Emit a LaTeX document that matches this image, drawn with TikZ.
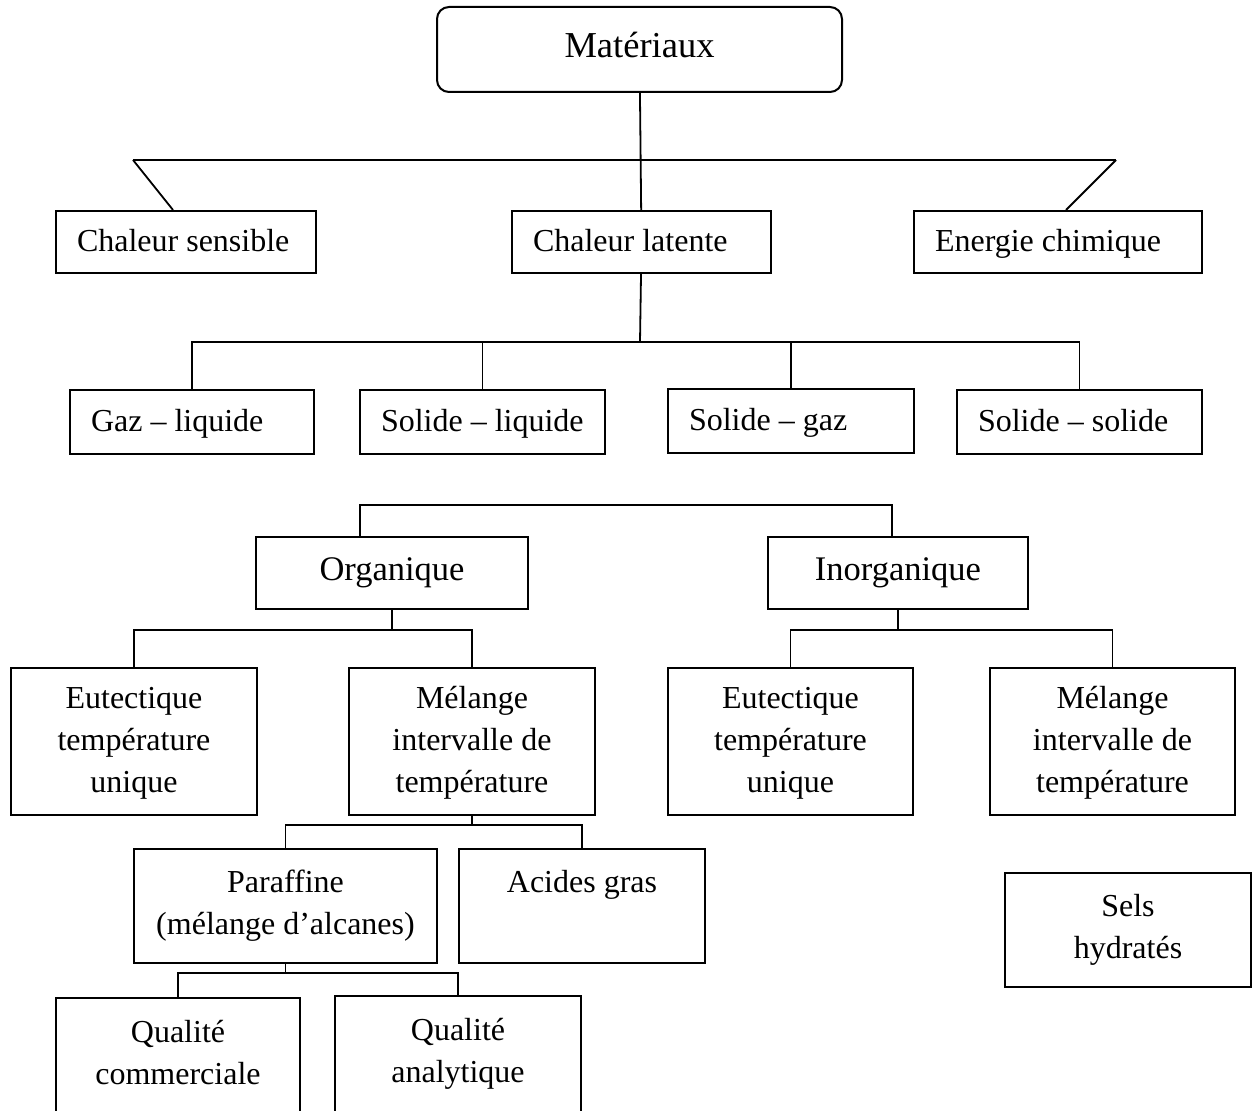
\documentclass[tikz,border=0pt]{standalone}
\usepackage{fontspec}
\setmainfont{Liberation Serif}

\begin{document}
\begin{tikzpicture}[
  x=0.5pt, y=-0.5pt,
  cbox/.style={draw, line width=1pt, inner sep=0pt, align=center,
               font=\fontsize{16pt}{21pt}\selectfont},
  lbox/.style={cbox, align=flush left, inner xsep=10.5pt, text width=#1,
               text height=11pt, text depth=1.5pt, minimum height=31pt},
  boxsize/.style 2 args={minimum width=#1, minimum height=#2},
  link/.style={line width=0.9pt},
]
  \path[use as bounding box] (0,0) rectangle (1253,1111);
  \clip (0,0) rectangle (1253,1111);

  \node[cbox, rounded corners=6pt, boxsize={202.5pt}{42.5pt}, text depth=5pt,
        font=\fontsize{18.25pt}{22pt}\selectfont] (mat) at (639.5,49.5) {Matériaux};

  \node[lbox=109pt] (sens) at (186,242) {Chaleur sensible};
  \node[lbox=108.5pt] (lat) at (641.5,242) {Chaleur latente};
  \node[lbox=123pt] (chim) at (1058,242) {Energie chimique};

  \node[lbox=101pt, minimum height=32pt] (gl) at (192,422) {Gaz – liquide};
  \node[lbox=101.5pt, minimum height=32pt] (sl) at (482.5,422) {Solide – liquide};
  \node[lbox=102pt, minimum height=32pt] (sg) at (791,421) {Solide – gaz};
  \node[lbox=101.5pt, minimum height=32pt] (ss) at (1079.5,422) {Solide – solide};

  \node[cbox, boxsize={136pt}{36pt}, font=\fontsize{17.25pt}{21pt}\selectfont] (org) at (392,573) {Organique};
  \node[cbox, boxsize={130pt}{36pt}, font=\fontsize{17.25pt}{21pt}\selectfont] (inorg) at (898,573) {Inorganique};

  \node[cbox, boxsize={123pt}{73.5pt}, text depth=2pt] (eutL) at (134,741.5) {Eutectique\\température\\unique};
  \node[cbox, boxsize={123pt}{73.5pt}, text depth=2pt] (melL) at (472,741.5) {Mélange\\intervalle de\\température};
  \node[cbox, boxsize={122.5pt}{73.5pt}, text depth=2pt] (eutR) at (790.5,741.5) {Eutectique\\température\\unique};
  \node[cbox, boxsize={122.5pt}{73.5pt}, text depth=2pt] (melR) at (1112.5,741.5) {Mélange\\intervalle de\\température};

  \node[cbox, boxsize={151.5pt}{57pt}] (par) at (285.5,906) {Paraffine\\(mélange d’alcanes)};
  \node[cbox, boxsize={123pt}{57pt}] (acid) at (582,906) {Acides gras\\\phantom{(}};
  \node[cbox, boxsize={123pt}{57pt}] (sels) at (1128,930) {Sels\\hydratés};

  \node[cbox, boxsize={122pt}{75pt}] (qc) at (178,1073) {Qualité\\commerciale\\~};
  \node[cbox, boxsize={123pt}{75pt}] (qa) at (458,1071) {Qualité\\analytique\\~};

  \draw[link] (mat) -- (lat);
  \coordinate (tL) at (133,160);
  \coordinate (tR) at (1116,160);
  \draw[link] (tL) -- (tR);
  \draw[link] (tL) -- ([xshift=-6.5pt]sens.north);
  \draw[link] (tR) -- ([xshift=4pt]chim.north);

  \coordinate (jLat) at (640,342);
  \draw[link] (lat) -- (jLat);
  \foreach \c in {gl,sl,sg,ss}
    \draw[link] (\c.north) |- (jLat);

  \coordinate (jPcm) at (626,505);
  \draw[link] ([xshift=-16pt]org.north) |- (jPcm);
  \draw[link] ([xshift=-3pt]inorg.north) |- (jPcm);

  \coordinate (jOrg) at (392,630);
  \draw[link] (org) -- (jOrg);
  \foreach \c in {eutL,melL}
    \draw[link] (\c.north) |- (jOrg);

  \coordinate (jInorg) at (898,630);
  \draw[link] (inorg) -- (jInorg);
  \foreach \c in {eutR,melR}
    \draw[link] (\c.north) |- (jInorg);

  \coordinate (jMel) at (472,825);
  \draw[link] (melL) -- (jMel);
  \foreach \c in {par,acid}
    \draw[link] (\c.north) |- (jMel);

  \coordinate (jPar) at (285.5,973);
  \draw[link] (par) -- (jPar);
  \foreach \c in {qc,qa}
    \draw[link] (\c.north) |- (jPar);
\end{tikzpicture}
\end{document}
